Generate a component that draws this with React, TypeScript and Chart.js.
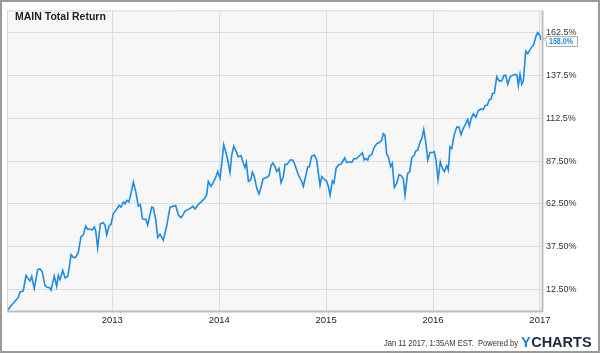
import React, { useEffect, useRef } from 'react';
import { Chart, registerables } from 'chart.js';

Chart.register(...registerables);

const title = 'MAIN Total Return';
const lastValueLabel = '158.0%';
const footerText = 'Jan 11 2017, 1:35AM EST.  Powered by';

const years = [
  2012.022, 2012.059, 2012.121, 2012.137, 2012.167, 2012.193, 2012.214, 2012.230, 2012.246, 2012.270,
  2012.302, 2012.324, 2012.345, 2012.370, 2012.392, 2012.411, 2012.427, 2012.457, 2012.480, 2012.495,
  2012.511, 2012.536, 2012.558, 2012.583, 2012.598, 2012.614, 2012.635, 2012.658, 2012.682, 2012.707,
  2012.729, 2012.751, 2012.770, 2012.791, 2012.813, 2012.832, 2012.845, 2012.863, 2012.888, 2012.916,
  2012.932, 2012.948, 2012.969, 2012.988, 2013.009, 2013.041, 2013.063, 2013.081, 2013.103, 2013.119,
  2013.135, 2013.156, 2013.175, 2013.197, 2013.219, 2013.243, 2013.262, 2013.283, 2013.313, 2013.331,
  2013.353, 2013.369, 2013.384, 2013.406, 2013.425, 2013.446, 2013.477, 2013.509, 2013.540, 2013.571,
  2013.593, 2013.618, 2013.643, 2013.664, 2013.680, 2013.711, 2013.736, 2013.752, 2013.774, 2013.799,
  2013.821, 2013.846, 2013.867, 2013.883, 2013.898, 2013.923, 2013.945, 2013.967, 2013.986, 2014.008,
  2014.024, 2014.042, 2014.061, 2014.080, 2014.101, 2014.117, 2014.136, 2014.157, 2014.179, 2014.204,
  2014.226, 2014.241, 2014.254, 2014.273, 2014.295, 2014.310, 2014.328, 2014.351, 2014.372, 2014.391,
  2014.410, 2014.444, 2014.466, 2014.485, 2014.501, 2014.522, 2014.538, 2014.560, 2014.578, 2014.600,
  2014.616, 2014.637, 2014.662, 2014.688, 2014.709, 2014.740, 2014.772, 2014.787, 2014.812, 2014.828,
  2014.843, 2014.865, 2014.890, 2014.912, 2014.927, 2014.943, 2014.959, 2014.981, 2015.006, 2015.021,
  2015.037, 2015.058, 2015.074, 2015.093, 2015.114, 2015.137, 2015.155, 2015.174, 2015.193, 2015.214,
  2015.239, 2015.261, 2015.280, 2015.301, 2015.324, 2015.339, 2015.357, 2015.373, 2015.389, 2015.404,
  2015.427, 2015.448, 2015.474, 2015.498, 2015.520, 2015.535, 2015.551, 2015.567, 2015.582, 2015.604,
  2015.619, 2015.638, 2015.661, 2015.682, 2015.701, 2015.722, 2015.738, 2015.762, 2015.782, 2015.801,
  2015.825, 2015.838, 2015.857, 2015.879, 2015.895, 2015.913, 2015.932, 2015.951, 2015.972, 2015.994,
  2016.012, 2016.028, 2016.047, 2016.068, 2016.087, 2016.106, 2016.128, 2016.143, 2016.159, 2016.175,
  2016.197, 2016.222, 2016.243, 2016.262, 2016.284, 2016.306, 2016.325, 2016.340, 2016.356, 2016.377,
  2016.400, 2016.424, 2016.449, 2016.471, 2016.487, 2016.508, 2016.527, 2016.543, 2016.555, 2016.574,
  2016.596, 2016.618, 2016.643, 2016.664, 2016.680, 2016.699, 2016.721, 2016.742, 2016.767, 2016.786,
  2016.798, 2016.814, 2016.830, 2016.845, 2016.867, 2016.886, 2016.908, 2016.924, 2016.942, 2016.964,
  2016.980, 2017.001, 2017.010,
];

const totalReturn = [
  0.6, 3.5, 7.9, 11.1, 11.7, 20.8, 18.9, 17.5, 20.2, 13.1,
  24.1, 24.6, 22.7, 15.0, 13.7, 13.7, 12.1, 20.4, 14.4, 20.8,
  18.3, 23.7, 19.4, 20.2, 25.6, 32.9, 31.3, 31.3, 34.2, 43.3,
  44.4, 49.6, 47.7, 47.7, 47.3, 49.0, 46.7, 36.8, 50.9, 51.5,
  50.0, 44.4, 49.6, 50.6, 56.7, 59.3, 61.7, 60.6, 63.5, 62.5,
  64.5, 63.6, 68.8, 75.2, 69.8, 61.2, 62.1, 53.7, 53.5, 50.2,
  56.4, 60.6, 60.2, 53.5, 42.9, 44.8, 41.4, 49.6, 60.6, 61.2,
  61.6, 56.0, 54.4, 56.4, 58.3, 59.3, 60.2, 61.2, 59.6, 61.7,
  63.1, 64.5, 66.0, 67.9, 75.6, 72.7, 75.0, 77.9, 81.4, 77.5,
  86.1, 97.1, 92.9, 88.1, 80.8, 91.0, 96.2, 93.3, 90.0, 90.6,
  86.1, 83.7, 86.7, 75.6, 76.6, 81.0, 78.5, 71.7, 68.3, 72.1,
  77.1, 77.9, 79.0, 84.8, 86.3, 84.2, 81.4, 83.3, 75.0, 78.5,
  85.6, 85.6, 88.1, 88.1, 85.2, 79.5, 75.6, 72.7, 79.5, 84.2,
  84.2, 90.4, 91.0, 88.1, 80.4, 73.3, 78.5, 76.9, 75.6, 72.7,
  67.5, 76.0, 74.6, 83.3, 85.2, 85.6, 87.1, 89.4, 86.6, 87.1,
  86.6, 89.0, 88.7, 90.0, 91.3, 92.3, 88.1, 89.0, 88.1, 90.6,
  91.3, 95.2, 97.7, 98.3, 99.6, 103.5, 102.5, 91.3, 90.0, 84.2,
  86.1, 72.1, 74.6, 79.5, 79.0, 77.1, 67.5, 80.2, 81.4, 89.4,
  91.0, 93.3, 93.9, 98.7, 100.6, 106.0, 98.7, 88.1, 92.5, 92.5,
  92.9, 88.1, 76.6, 87.1, 83.3, 81.4, 84.8, 82.3, 95.8, 94.8,
  102.5, 107.3, 107.3, 102.9, 106.7, 109.2, 111.8, 107.9, 112.1, 115.0,
  113.1, 117.0, 117.9, 117.5, 119.8, 120.2, 123.3, 123.6, 126.9, 127.1,
  136.7, 134.3, 134.3, 137.5, 137.5, 132.3, 136.7, 137.5, 138.1, 137.5,
  131.4, 138.1, 132.3, 134.3, 151.6, 150.2, 152.5, 154.1, 155.4, 160.6,
  162.5, 160.6, 158.0,
];

const yTickValues = [12.5, 37.5, 62.5, 87.5, 112.5, 137.5, 162.5];
const yTickLabels = ['12.50%', '37.50%', '62.50%', '87.50%', '112.5%', '137.5%', '162.5%'];
const xTickValues = [2013, 2014, 2015, 2016, 2017];
const xTickLabels = ['2013', '2014', '2015', '2016', '2017'];

const FONT = "'Liberation Sans', Arial, sans-serif";
const LINE_BLUE = '#1e8be4';

const decorPlugin = {
  id: 'decor',
  beforeDraw(chart: any) {
    const { ctx, chartArea: a } = chart;
    ctx.save();
    ctx.fillStyle = '#ffffff';
    ctx.fillRect(0, 0, chart.width, chart.height);
    ctx.fillStyle = '#f7f7f7';
    ctx.fillRect(a.left, a.top, a.right - a.left, a.bottom - a.top);
    ctx.restore();
  },
  afterDraw(chart: any) {
    const { ctx, chartArea: a } = chart;
    ctx.save();
    // plot frame
    ctx.strokeStyle = '#d8d8d8';
    ctx.lineWidth = 1;
    ctx.beginPath();
    ctx.moveTo(a.left + 0.5, a.bottom);
    ctx.lineTo(a.left + 0.5, a.top + 0.5);
    ctx.lineTo(a.right, a.top + 0.5);
    ctx.stroke();
    ctx.strokeStyle = '#bdbdbd';
    ctx.lineWidth = 2;
    ctx.beginPath();
    ctx.moveTo(a.left, a.bottom + 0.5);
    ctx.lineTo(a.right + 1.5, a.bottom + 0.5);
    ctx.moveTo(a.right + 1.5, a.bottom + 1);
    ctx.lineTo(a.right + 1.5, a.top);
    ctx.stroke();

    // title
    ctx.fillStyle = '#222222';
    ctx.font = `bold 10.5px ${FONT}`;
    ctx.textBaseline = 'middle';
    ctx.textAlign = 'left';
    ctx.fillText(title, 15, 17, 91);

    // last value tag
    const yScale = chart.scales.y;
    const lastY = Math.round(yScale.getPixelForValue(totalReturn[totalReturn.length - 1]));
    const bx = 546, bw = 31, bh = 10;
    const by = lastY - 4;
    ctx.fillStyle = '#ffffff';
    ctx.strokeStyle = '#b0b0b0';
    ctx.lineWidth = 1;
    ctx.beginPath();
    ctx.moveTo(bx + 0.5, by + 0.5);
    ctx.lineTo(bx + bw + 0.5, by + 0.5);
    ctx.lineTo(bx + bw + 0.5, by + bh + 0.5);
    ctx.lineTo(bx + 0.5, by + bh + 0.5);
    ctx.lineTo(bx + 0.5, by + 5.5);
    ctx.lineTo(bx - 3.5, by + 2.5);
    ctx.lineTo(bx + 0.5, by + 2.5);
    ctx.closePath();
    ctx.fill();
    ctx.stroke();
    ctx.fillStyle = LINE_BLUE;
    ctx.font = `bold 9px ${FONT}`;
    ctx.textBaseline = 'middle';
    ctx.fillText(lastValueLabel, bx + 3, by + bh / 2 + 1, 24);

    // footer
    ctx.fillStyle = '#333333';
    ctx.font = `8.5px ${FONT}`;
    ctx.textAlign = 'right';
    ctx.textBaseline = 'alphabetic';
    ctx.fillText(footerText, 518, 346, 134);

    // YCHARTS logo
    ctx.textAlign = 'left';
    ctx.font = `bold 14.5px ${FONT}`;
    ctx.fillStyle = '#1b7fe0';
    ctx.fillText('Y', 521, 347);
    const yw = ctx.measureText('Y').width;
    ctx.fillStyle = '#1c2b3c';
    ctx.fillText('CHARTS', 521 + yw + 0.5, 347, 71 - yw - 0.5);

    // outer border
    ctx.strokeStyle = '#9a9a9a';
    ctx.lineWidth = 2;
    ctx.strokeRect(1, 1, chart.width - 2, chart.height - 2);
    ctx.restore();
  },
};

export default function App() {
  const canvasRef = useRef<HTMLCanvasElement | null>(null);

  useEffect(() => {
    const canvas = canvasRef.current;
    if (!canvas) return;
    const chart = new Chart(canvas, {
      type: 'line',
      data: {
        datasets: [
          {
            label: title,
            data: years.map((x, i) => ({ x, y: totalReturn[i] })),
            borderColor: LINE_BLUE,
            borderWidth: 1.6,
            pointRadius: 0,
            tension: 0,
            fill: false,
          },
        ],
      },
      options: {
        animation: false,
        responsive: false,
        events: [],
        layout: { padding: { left: 7, top: 7, right: 0, bottom: 0 } },
        plugins: {
          legend: { display: false },
          tooltip: { enabled: false },
          title: { display: false },
        },
        scales: {
          x: {
            type: 'linear',
            min: 2012.015,
            max: 2017.01,
            afterBuildTicks: (s: any) => {
              s.ticks = xTickValues.map((v) => ({ value: v }));
            },
            afterFit: (s: any) => {
              s.height = 42;
            },
            grid: { color: '#dddddd', lineWidth: 1, drawTicks: false },
            border: { display: false },
            ticks: {
              autoSkip: false,
              maxRotation: 0,
              padding: 4,
              color: '#222222',
              font: { family: FONT, size: 9.5 },
              callback: (v: any) => xTickLabels[xTickValues.indexOf(Number(v))] ?? '',
            },
          },
          y: {
            position: 'right',
            min: 0,
            max: 175.4,
            afterBuildTicks: (s: any) => {
              s.ticks = yTickValues.map((v) => ({ value: v }));
            },
            afterFit: (s: any) => {
              s.width = 59;
            },
            grid: { color: '#dddddd', lineWidth: 1, drawTicks: false },
            border: { display: false },
            ticks: {
              autoSkip: false,
              padding: 5,
              color: '#333333',
              font: { family: FONT, size: 9 },
              callback: (v: any) => yTickLabels[yTickValues.indexOf(Number(v))] ?? '',
            },
          },
        },
      },
      plugins: [decorPlugin],
    });
    return () => chart.destroy();
  }, []);

  return (
    <div style={{ position: 'absolute', left: 0, top: 0, width: 600, height: 353, background: '#fff' }}>
      <canvas ref={canvasRef} width={600} height={353} style={{ display: 'block', width: 600, height: 353 }} />
    </div>
  );
}
